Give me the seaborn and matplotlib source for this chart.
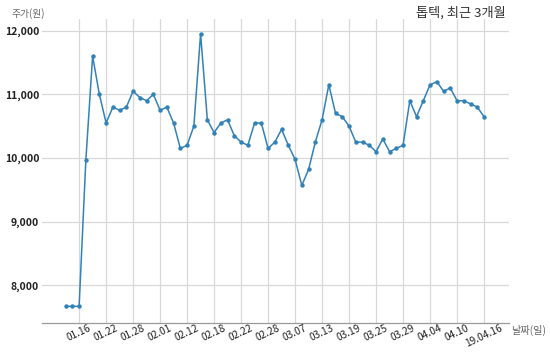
import matplotlib
matplotlib.use("Agg")
import matplotlib.pyplot as plt
import seaborn as sns
import pandas as pd
import numpy as np

prices = [7670, 7670, 7670, 9970, 11600, 11000, 10550, 10800, 10750, 10800,
          11050, 10950, 10900, 11000, 10750, 10800, 10550, 10150, 10200, 10500,
          11950, 10600, 10400, 10550, 10600, 10350, 10250, 10200, 10550, 10550,
          10150, 10250, 10450, 10200, 9980, 9570, 9820, 10250, 10600, 11150,
          10700, 10650, 10500, 10250, 10250, 10200, 10100, 10300, 10100, 10150,
          10200, 10900, 10650, 10900, 11150, 11200, 11050, 11100, 10900, 10900,
          10850, 10800, 10650]
tick_labels = ["01.16", "01.22", "01.28", "02.01", "02.12", "02.18", "02.22", "02.28",
               "03.07", "03.13", "03.19", "03.25", "03.29", "04.04", "04.10", "19.04.16"]
y_ticks = [8000, 9000, 10000, 11000, 12000]
title = "톱텍, 최근 3개월"
y_label = "주가(원)"
x_label = "날짜(일)"

sns.set_theme(style="white")
plt.rcParams['font.family'] = ['Noto Sans CJK KR', 'DejaVu Sans']

df = pd.DataFrame({"idx": np.arange(len(prices)), "price": prices})

fig = plt.figure(figsize=(5.5, 3.56), dpi=100)
ax = fig.add_axes([42/550, 1 - 323/356, (509-42)/550, (323-19)/356])

sns.lineplot(data=df, x="idx", y="price", ax=ax, color="#3282b8", linewidth=1.1,
             marker="o", markersize=3.2, markeredgewidth=0, zorder=3)

tick_pos = [2 + 4 * i for i in range(len(tick_labels))]
ax.set_xticks(tick_pos)
ax.set_xticklabels(tick_labels, rotation=25, ha="center", fontsize=7.3, color="#222222")
ax.set_yticks(y_ticks)
ax.set_yticklabels([f"{v:,}" for v in y_ticks], fontsize=7.5, fontweight="bold", color="#222222")
ax.set_xlim(-3.5, 65.7)
ax.set_ylim(7408, 12184)

ax.grid(True, axis="both", color="#d8d8d8", linewidth=0.9)
ax.set_axisbelow(True)
for s in ["top", "right", "left"]:
    ax.spines[s].set_visible(False)
ax.spines["bottom"].set_color("#999999")
ax.spines["bottom"].set_linewidth(0.9)
ax.tick_params(axis="x", length=0, pad=0)
ax.tick_params(axis="y", length=0, pad=2)
ax.set_xlabel("")
ax.set_ylabel("")

fig.text(506/550, 1 - 13/356, title, ha="right", va="center", fontsize=9.5, color="#333333")
fig.text(28/550, 1 - 14/356, y_label, ha="center", va="center", fontsize=7, color="#666666")
fig.text(511/550, 1 - 330/356, x_label, ha="left", va="center", fontsize=7.3, color="#666666")

fig.savefig("out.png", dpi=100)
